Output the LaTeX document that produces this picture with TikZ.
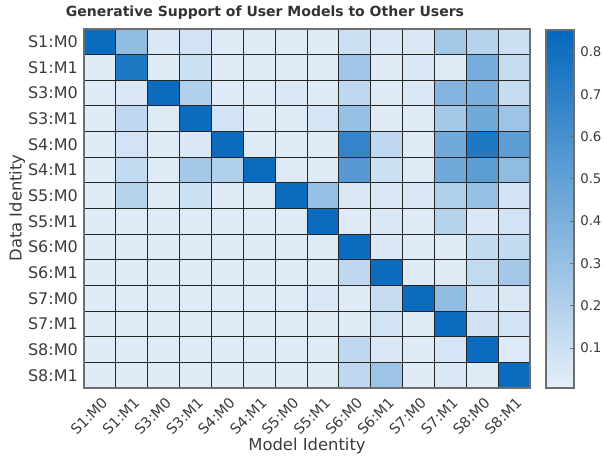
\documentclass[tikz,border=0pt]{standalone}
\usepackage{fontspec}
\setmainfont{DejaVu Sans}
\usetikzlibrary{positioning}
\definecolor{heatlow}{RGB}{229,239,249}
\definecolor{heathigh}{RGB}{4,104,189}
\definecolor{labelgray}{RGB}{60,60,60}
\definecolor{framegray}{RGB}{110,110,110}

\begin{document}
\begin{tikzpicture}[
        x=0.75pt, y=-0.75pt,
        gridline/.style={draw=black!85, line width=0.7pt},
        frameline/.style={draw=framegray, line width=0.9pt},
        ticklabel/.style={font=\fontsize{12}{12}\selectfont, text=labelgray, inner sep=0pt},
        rotlabel/.style={font=\fontsize{10.8}{10.8}\selectfont, text=labelgray, inner sep=0pt, anchor=east, rotate=45},
        cblabel/.style={font=\fontsize{10}{10}\selectfont, text=labelgray, inner sep=0pt, anchor=west},
        axistitle/.style={font=\fontsize{12.3}{12.3}\selectfont, text=labelgray, inner sep=0pt}
    ]
        \useasboundingbox (0,0) rectangle (604,463);
        \def\cw{31.857}
        \def\ch{25.643}

        % Heat map cells (rows = data identity, columns = model identity)
        \foreach \rowvals [count=\r from 0] in {
            {0.83,0.32,0.05,0.08,0.03,0.03,0.03,0.03,0.10,0.05,0.05,0.25,0.18,0.10},
            {0.03,0.75,0.03,0.10,0.03,0.03,0.03,0.03,0.27,0.03,0.05,0.03,0.42,0.12},
            {0.03,0.05,0.83,0.20,0.03,0.03,0.05,0.03,0.15,0.03,0.05,0.38,0.40,0.12},
            {0.03,0.15,0.03,0.83,0.08,0.03,0.03,0.06,0.30,0.03,0.03,0.25,0.45,0.28},
            {0.03,0.08,0.03,0.05,0.83,0.03,0.03,0.03,0.68,0.15,0.03,0.45,0.75,0.52},
            {0.03,0.13,0.03,0.25,0.20,0.83,0.03,0.03,0.55,0.10,0.03,0.45,0.52,0.33},
            {0.03,0.18,0.03,0.10,0.03,0.03,0.83,0.30,0.05,0.05,0.05,0.20,0.30,0.08},
            {0.03,0.03,0.03,0.03,0.03,0.03,0.03,0.83,0.03,0.05,0.03,0.18,0.05,0.08},
            {0.03,0.03,0.03,0.03,0.03,0.03,0.03,0.03,0.83,0.05,0.03,0.03,0.13,0.13},
            {0.03,0.03,0.03,0.03,0.03,0.03,0.03,0.03,0.15,0.83,0.03,0.03,0.14,0.25},
            {0.03,0.03,0.03,0.03,0.03,0.03,0.03,0.05,0.03,0.12,0.83,0.32,0.07,0.05},
            {0.03,0.03,0.03,0.03,0.03,0.03,0.03,0.03,0.03,0.08,0.03,0.83,0.09,0.08},
            {0.03,0.03,0.03,0.03,0.03,0.03,0.03,0.03,0.15,0.05,0.03,0.06,0.83,0.04},
            {0.03,0.03,0.03,0.03,0.03,0.03,0.03,0.03,0.15,0.28,0.03,0.05,0.03,0.83}} {
            \foreach \v [count=\c from 0] in \rowvals {
                \pgfmathtruncatemacro\pct{min(100,\v/0.85*100)}
                \fill[heathigh!\pct!heatlow] ({84+\c*\cw},{29+\r*\ch}) rectangle +(\cw,\ch);
            }
        }

        % Grid lines and frame
        \foreach \i in {1,...,13} {
            \draw[gridline] ({84+\i*\cw},29) -- ({84+\i*\cw},388);
            \draw[gridline] (84,{29+\i*\ch}) -- (530,{29+\i*\ch});
        }
        \draw[frameline] (84,29) rectangle (530,388);

        % Tick labels
        \foreach \lab [count=\i from 0] in {S1:M0,S1:M1,S3:M0,S3:M1,S4:M0,S4:M1,S5:M0,S5:M1,S6:M0,S6:M1,S7:M0,S7:M1,S8:M0,S8:M1} {
            \node[ticklabel, anchor=east] (row\i) at (78,{29+(\i+0.5)*\ch}) {\lab};
            \node[rotlabel] (col\i) at ({84+(\i+0.5)*\cw+5},400) {\lab};
        }

        % Titles
        \node[axistitle, rotate=90] (ylab) at (17,208) {Data Identity};
        \node[axistitle] (xlab) at (307,446) {Model Identity};
        \node[font=\bfseries\fontsize{10.5}{10.5}\selectfont, text=black!80, inner sep=0pt] (title) at (265,13)
            {Generative Support of User Models to Other Users};

        % Colour bar
        \shade[bottom color=heatlow, top color=heathigh] (546,30) rectangle (574,388);
        \draw[frameline] (546,30) rectangle (574,388);
        \foreach \t in {0.1,0.2,0.3,0.4,0.5,0.6,0.7,0.8} {
            \draw[framegray, line width=0.7pt] (570,{390.3-422.9*\t}) -- (574,{390.3-422.9*\t});
            \node[cblabel] (cb\t) at (580,{390.3-422.9*\t}) {\t};
        }
    \end{tikzpicture}
\end{document}
